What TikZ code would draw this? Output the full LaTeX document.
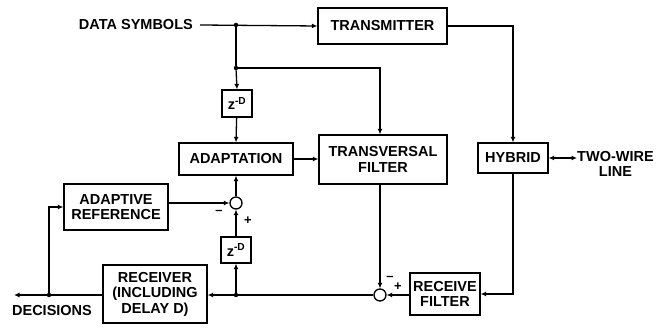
\documentclass[tikz,border=0pt]{standalone}
\usepackage{fontspec}
\setmainfont{Liberation Sans}
\usetikzlibrary{arrows.meta}
\begin{document}
\begin{tikzpicture}[x=1pt,y=-1pt,
  every node/.style={font=\bfseries\fontsize{14.5}{15}\selectfont, inner sep=0pt},
  blk/.style={draw, line width=1.3pt, align=center, font=\bfseries\fontsize{14.5}{15.5}\selectfont},
  sm/.style={draw, line width=1.3pt, circle, minimum size=12pt},
  lab/.style={font=\bfseries\fontsize{13}{13}\selectfont},
  conn/.style={line width=1.3pt},
  arr/.style={conn, -{Latex[length=5.5pt,width=5pt]}},
  dot/.style={circle, fill, minimum size=4.5pt}]
\useasboundingbox (0,0) rectangle (669,328);
% blocks
\node[blk, minimum width=129pt, minimum height=36pt] (tx) at (382.5,26) {TRANSMITTER};
\node[blk, minimum width=30pt, minimum height=27pt] (z1) at (237,103.5) {z\textsuperscript{-D}};
\node[blk, minimum width=114pt, minimum height=32pt] (ad) at (236,159) {ADAPTATION};
\node[blk, minimum width=128pt, minimum height=49pt] (tf) at (383,159.5) {TRANSVERSAL\\FILTER};
\node[blk, minimum width=70pt, minimum height=30pt] (hy) at (513,158) {HYBRID};
\node[blk, minimum width=104pt, minimum height=46pt] (ar) at (116,207) {ADAPTIVE\\REFERENCE};
\node[sm] (s1) at (236,203) {};
\node[blk, minimum width=30pt, minimum height=26pt] (z2) at (236,250) {z\textsuperscript{-D}};
\node[blk, minimum width=104pt, minimum height=58pt] (rx) at (155,294) {RECEIVER\\(INCLUDING\\DELAY D)};
\node[sm] (s2) at (380,295) {};
\node[blk, minimum width=70pt, minimum height=42pt] (rf) at (445,294) {RECEIVE\\FILTER};
% texts
\node[anchor=east] (ds) at (193,25) {DATA SYMBOLS};
\node[anchor=west, align=center] (tw) at (577,164) {TWO-WIRE\\LINE};
\node (dec) at (52,311) {DECISIONS};
% junctions
\node[dot] (j1) at (236,25) {};
\node[dot] (j2) at (236,68) {};
\node[dot] (j3) at (236,295) {};
\node[dot] (j4) at (49,295) {};
\coordinate (decend) at (14,295);
% connectors
\draw[arr] (ds.east) ++(7,0) -- (tx.west);
\draw[conn] (j1) -- (j2);
\draw[arr] (j2) -- (z1.north);
\draw[arr] (j2) -| (tf.north -| s2);
\draw[arr] (z1) -- (ad.north);
\draw[arr] (ad.east) -- (ad.east -| tf.west);
\draw[arr] (tx.east) -| (hy.north);
\draw[{Latex[length=5.5pt,width=5pt]}-{Latex[length=5.5pt,width=5pt]}, conn] (hy.east) -- (tw.west |- hy.east);
\draw[arr] (ar.east |- s1) -- (s1.west);
\draw[arr] (s1) -- (ad.south -| s1);
\draw[arr] (z2) -- (s1.south);
\draw[arr] (j3) -- (z2.south);
\draw[arr] (s2.west) -- (rx.east |- s2);
\draw[arr] (tf.south -| s2) -- (s2.north);
\draw[arr] (rf.west |- s2) -- (s2.east);
\draw[arr] (hy.south) |- (rf.east);
\draw[arr] (rx.west |- j4) -- (decend);
\draw[arr] (j4) |- (ar.west);
% sign labels
\node[lab] at (219,212) {--};
\node[lab] at (248,221) {+};
\node[lab] at (390,278) {--};
\node[lab] at (398,287) {+};
\end{tikzpicture}
\end{document}
